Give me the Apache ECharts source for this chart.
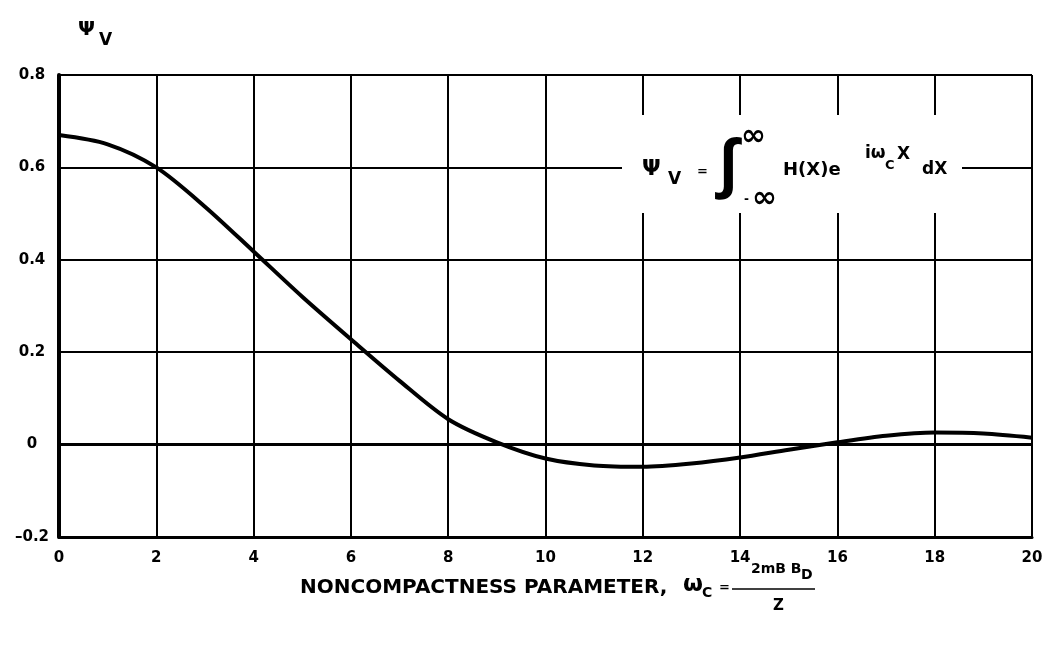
<!DOCTYPE html>
<html>
<head>
<meta charset="utf-8">
<script src="https://cdn.jsdelivr.net/npm/echarts@6/dist/echarts.min.js"></script>
<style>html,body{margin:0;padding:0;background:#fff}#c{width:1053px;height:652px}</style>
</head>
<body>
<div id="c"></div>
<script>
const omegaC = [0, 1, 2, 3, 4, 5, 6, 7, 8, 9, 10, 11, 12, 13, 14, 15, 16, 17, 18, 19, 20];
const psiV = [0.670, 0.650, 0.600, 0.515, 0.418, 0.320, 0.228, 0.138, 0.055, 0.005, -0.030, -0.045, -0.048, -0.041, -0.028, -0.011, 0.005, 0.019, 0.026, 0.024, 0.015];
const xTicks = [0, 2, 4, 6, 8, 10, 12, 14, 16, 18, 20];
const yTicks = [-0.2, 0, 0.2, 0.4, 0.6, 0.8];

const F = '"DejaVu Sans", "Liberation Sans", sans-serif';
function T(x, y, text, size, extra) {
  return Object.assign({ type: 'text', z: 11, style: Object.assign({
    x: x, y: y, text: text, fontSize: size, fontWeight: 'bold', fontFamily: F,
    fill: '#000', align: 'left', verticalAlign: 'middle' }, extra || {}) });
}
const chart = echarts.init(document.getElementById('c'));
chart.setOption({
  animation: false,
  backgroundColor: '#fff',
  grid: { left: 59, right: 21, top: 75, bottom: 115 },
  xAxis: {
    type: 'value', min: xTicks[0], max: xTicks[xTicks.length - 1], interval: 2,
    axisLine: { show: true, onZero: false, lineStyle: { color: '#000', width: 3 } },
    axisTick: { show: false },
    splitLine: { show: true, lineStyle: { color: '#000', width: 2 } },
    axisLabel: { color: '#000', fontFamily: F, fontWeight: 'bold', fontSize: 15, margin: 14 }
  },
  yAxis: {
    type: 'value', min: yTicks[0], max: yTicks[yTicks.length - 1], interval: 0.2,
    axisLine: { show: true, lineStyle: { color: '#000', width: 4 } },
    axisTick: { show: false },
    splitLine: { show: true, lineStyle: { color: '#000', width: 2 } },
    axisLabel: {
      color: '#000', fontFamily: F, fontWeight: 'bold', fontSize: 15, margin: 27, align: 'center',
      formatter: v => Math.abs(v) < 1e-9 ? '0' : (v < 0 ? '\u2013' + Math.abs(v).toFixed(1) : v.toFixed(1))
    }
  },
  series: [{
    type: 'line', data: omegaC.map((x, i) => [x, psiV[i]]), smooth: 0.3, showSymbol: false,
    lineStyle: { color: '#000', width: 4 },
    markLine: { silent: true, symbol: 'none', label: { show: false },
      lineStyle: { color: '#000', width: 3, type: 'solid' }, data: [{ yAxis: 0 }] }
  }],
  graphic: [
    T(78, 30, '\u03A8', 20),
    T(99, 41, 'V', 17),
    { type: 'rect', shape: { x: 622, y: 115, width: 340, height: 98 }, style: { fill: '#fff' }, z: 10 },
    T(642, 169, '\u03A8', 22),
    T(668, 180, 'V', 17),
    T(697, 172, '=', 13),
    T(719, 167, '\u222B', 66, { fontFamily: '"Liberation Sans", sans-serif' }),
    T(741, 137, '\u221E', 30),
    T(744, 200, '-', 12),
    T(752, 199, '\u221E', 30),
    T(783, 170, 'H(X)e', 18),
    T(865, 154, 'i\u03C9', 17),
    T(885, 166, 'C', 13),
    T(897, 155, 'X', 17),
    T(922, 170, 'dX', 17),
    T(300, 588, 'NONCOMPACTNESS PARAMETER,', 20),
    T(683, 585, '\u03C9', 23),
    T(702, 593, 'C', 14),
    T(719, 588, '=', 13),
    { type: 'line', shape: { x1: 732, y1: 589, x2: 815, y2: 589 }, style: { stroke: '#000', lineWidth: 1.5 } },
    T(751, 569, '2mB B', 14),
    T(801, 575, 'D', 14),
    T(773, 606, 'Z', 15)
  ]
});
</script>
</body>
</html>
